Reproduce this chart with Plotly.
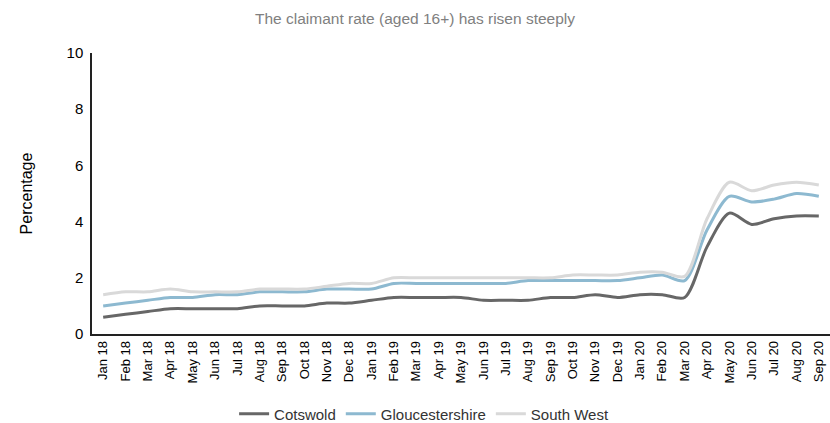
import plotly.graph_objects as go

months = ["Jan 18","Feb 18","Mar 18","Apr 18","May 18","Jun 18","Jul 18","Aug 18","Sep 18","Oct 18","Nov 18","Dec 18",
          "Jan 19","Feb 19","Mar 19","Apr 19","May 19","Jun 19","Jul 19","Aug 19","Sep 19","Oct 19","Nov 19","Dec 19",
          "Jan 20","Feb 20","Mar 20","Apr 20","May 20","Jun 20","Jul 20","Aug 20","Sep 20"]

cotswold = [0.6,0.7,0.8,0.9,0.9,0.9,0.9,1.0,1.0,1.0,1.1,1.1,
            1.2,1.3,1.3,1.3,1.3,1.2,1.2,1.2,1.3,1.3,1.4,1.3,
            1.4,1.4,1.3,3.1,4.3,3.9,4.1,4.2,4.2]
gloucestershire = [1.0,1.1,1.2,1.3,1.3,1.4,1.4,1.5,1.5,1.5,1.6,1.6,
                   1.6,1.8,1.8,1.8,1.8,1.8,1.8,1.9,1.9,1.9,1.9,1.9,
                   2.0,2.1,1.9,3.7,4.9,4.7,4.8,5.0,4.9]
south_west = [1.4,1.5,1.5,1.6,1.5,1.5,1.5,1.6,1.6,1.6,1.7,1.8,
              1.8,2.0,2.0,2.0,2.0,2.0,2.0,2.0,2.0,2.1,2.1,2.1,
              2.2,2.2,2.05,4.1,5.4,5.1,5.3,5.4,5.3]

series = [("Cotswold", cotswold, "#676767"),
          ("Gloucestershire", gloucestershire, "#8db9d0"),
          ("South West", south_west, "#d9d9d9")]

fig = go.Figure()
for name, vals, col in series:
    fig.add_trace(go.Scatter(x=months, y=vals, name=name, mode="lines",
                             line=dict(color=col, width=3, shape="spline", smoothing=0.8)))

fig.update_layout(
    width=830, height=423,
    margin=dict(l=92, r=0, t=53, b=89, autoexpand=False),
    paper_bgcolor="white", plot_bgcolor="white",
    font=dict(family="Liberation Sans, Arial, sans-serif", color="black"),
    title=dict(text="The claimant rate (aged 16+) has risen steeply", x=0.5, xanchor="center",
               y=0.957, yanchor="middle", font=dict(size=15.5, color="#808080")),
    showlegend=True,
    legend=dict(orientation="h", x=0.45, xanchor="center", y=-0.285, yanchor="middle",
                font=dict(size=15, color="#333333"), itemwidth=30),
    xaxis=dict(type="category", range=[-0.5, 32.5], tickangle=-90, showgrid=False,
               showline=True, linecolor="#222222", linewidth=1.5, ticks="",
               tickfont=dict(size=13), zeroline=False, automargin=False),
    yaxis=dict(range=[0, 10], dtick=2, showgrid=False, showline=True, linecolor="#222222",
               linewidth=1.5, ticks="", tickfont=dict(size=15), zeroline=False, automargin=False,
               ticklabelstandoff=4,
               title=dict(text="Percentage", font=dict(size=16), standoff=30)),
)

fig.write_html("out.html")
